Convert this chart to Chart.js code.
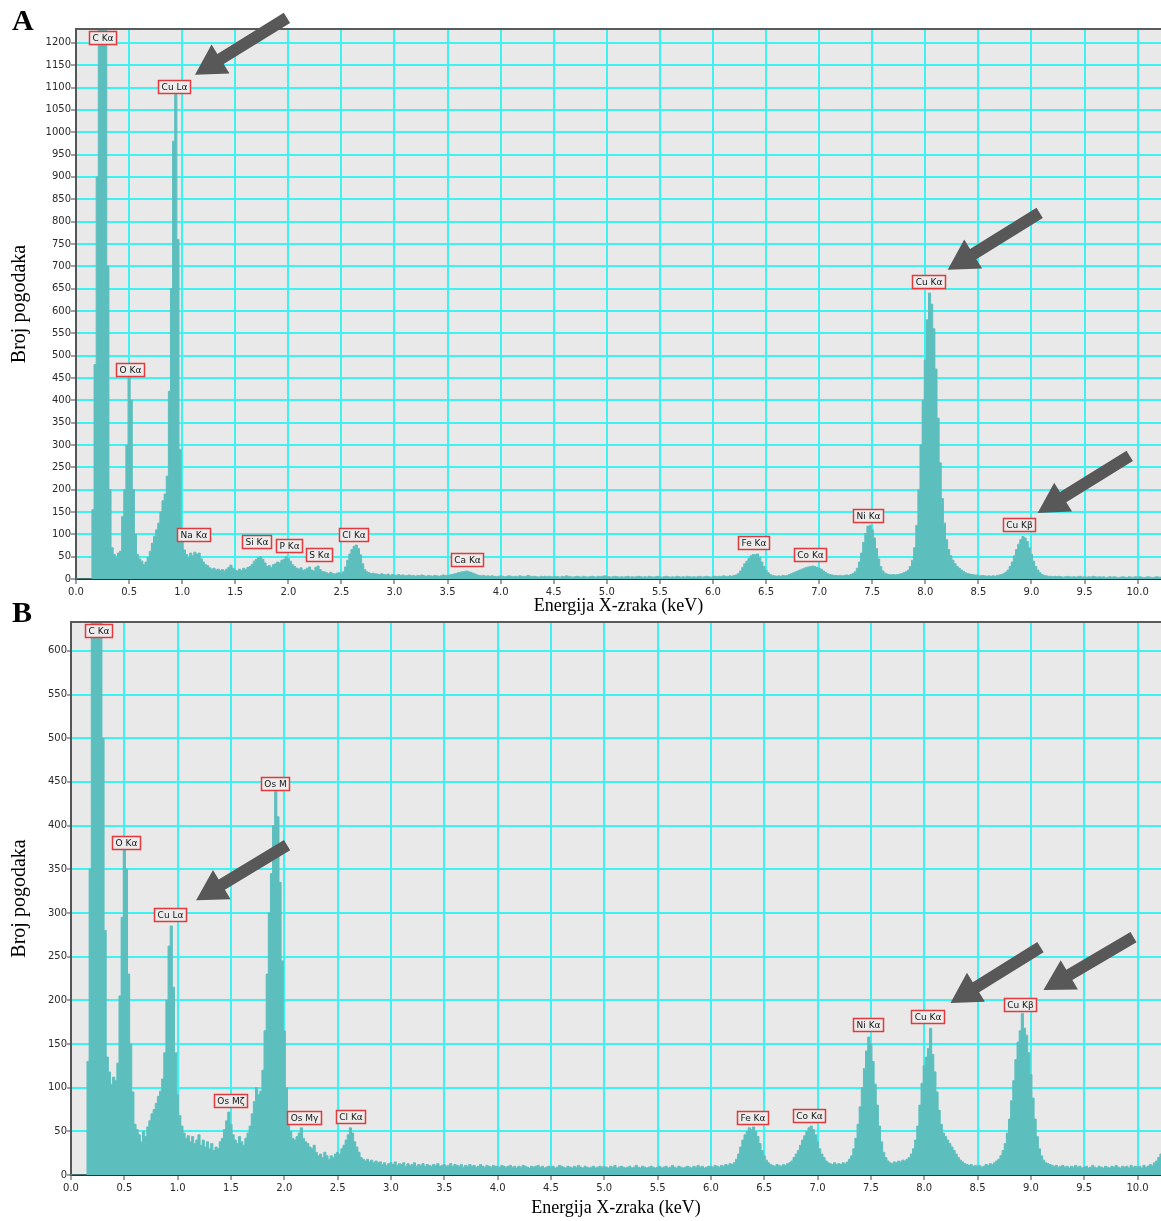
<!DOCTYPE html>
<html>
<head>
<meta charset="utf-8">
<script src="https://cdn.jsdelivr.net/npm/chart.js@4.4.1/dist/chart.umd.min.js"></script>
<style>
html,body{margin:0;padding:0;background:#fff;}
#wrap{position:relative;width:1161px;height:1221px;overflow:hidden;background:#fff;}
#cA{position:absolute;left:0;top:0;width:1161px;height:620px;}
#cB{position:absolute;left:0;top:598px;width:1161px;height:623px;}
</style>
</head>
<body>
<div id="wrap">
<canvas id="cA" width="1161" height="620"></canvas>
<canvas id="cB" width="1161" height="623"></canvas>
</div>
<script>
// ---------------- DATA ----------------
const energyStep = 0.02; // keV per channel bin (bin centres 0.00 ... 10.22)

// Panel A counts, one row per 0.5 keV
const countsA = [
  0,0,0,0,0,0,0,0,155,480,900,1300,1300,1300,1300,700,200,70,55,48,58,62,140,200,300,
  455,400,200,100,55,45,40,32,38,48,62,80,95,110,125,150,175,190,230,420,650,980,1085,760,290,
  110,65,55,48,58,52,60,55,58,45,38,32,30,25,22,24,20,22,19,21,18,22,26,31,24,
  20,18,22,19,24,21,26,28,33,40,44,48,50,44,36,28,30,26,32,34,38,36,42,44,50,
  46,40,32,28,24,22,25,19,21,24,27,20,18,26,29,21,17,16,14,12,15,12,11,13,14,
  12,16,27,42,56,66,73,76,68,54,34,21,16,14,12,13,12,11,10,12,10,9,11,8,10,
  9,8,10,8,9,7,8,9,7,8,6,8,7,9,7,6,8,7,6,8,7,6,7,9,8,
  8,9,10,11,12,14,15,16,17,18,16,15,13,11,9,8,7,8,6,7,6,7,6,5,6,
  7,6,5,6,7,6,5,6,5,7,6,5,6,8,6,5,6,5,4,6,5,6,5,6,5,
  5,6,5,4,6,5,7,6,5,4,5,6,5,4,6,5,4,5,6,5,4,6,5,6,7,
  6,5,4,5,6,5,4,5,4,5,6,4,5,4,5,6,5,4,5,4,6,5,4,5,6,
  5,4,5,6,5,4,5,4,6,5,4,5,4,6,5,4,5,4,5,6,4,5,6,5,4,
  5,6,5,6,5,7,6,5,7,6,8,9,12,18,26,34,40,46,52,55,54,56,48,38,28,
  20,14,10,8,7,6,7,6,8,7,8,10,12,14,16,18,20,22,24,26,27,28,29,28,26,
  24,22,18,15,12,10,9,8,8,7,8,7,8,9,8,10,12,16,24,38,58,82,102,118,120,
  110,92,68,45,28,18,13,11,10,9,10,9,10,11,12,14,16,20,28,42,70,120,200,300,400,
  490,580,640,615,560,470,360,260,180,125,88,66,52,42,34,28,24,20,17,14,12,11,10,9,9,
  8,7,8,7,6,7,6,7,6,8,9,10,12,15,20,28,38,52,66,78,88,95,92,84,70,
  55,40,28,20,14,10,8,7,6,6,5,6,5,6,5,4,5,6,5,4,5,4,5,6,4,
  5,4,5,4,6,5,4,5,4,5,3,4,5,4,5,4,3,4,5,4,3,5,4,4,5,
  4,5,4,3,4,5,4,3,4,5,4,4
];

// Panel B counts, one row per 0.5 keV
const countsB = [
  0,0,0,0,0,0,0,0,130,350,700,700,700,700,700,500,280,135,118,104,112,108,128,205,295,
  382,350,230,150,95,58,52,46,38,50,44,55,62,70,75,82,90,96,110,140,200,262,285,215,140,
  92,68,56,48,42,45,38,44,36,40,46,34,40,32,38,30,36,28,32,30,38,42,52,62,72,
  58,46,40,36,44,38,34,42,48,56,70,84,100,92,96,120,165,230,300,345,400,440,410,335,245,
  165,100,64,50,42,40,44,48,54,42,38,36,32,30,34,26,22,24,20,26,22,18,22,20,24,
  26,24,30,34,40,46,54,48,38,32,26,20,18,16,18,15,17,14,16,14,15,12,14,11,13,
  14,12,15,11,13,12,14,10,13,11,12,14,10,12,11,13,10,12,11,10,12,11,13,10,11,
  12,10,11,13,10,12,11,10,12,9,11,10,12,10,11,9,10,12,10,9,11,10,9,11,10,
  10,9,11,10,9,10,11,9,10,8,10,9,11,10,9,8,10,9,10,11,9,10,8,9,10,
  9,10,8,9,11,10,9,8,10,9,8,10,9,11,9,8,10,9,8,9,10,8,9,10,9,
  10,9,8,10,9,11,8,9,10,9,8,9,10,8,9,11,9,8,10,9,8,9,10,9,8,
  9,10,8,9,10,8,9,11,9,8,10,9,8,9,10,9,8,10,9,11,9,10,8,9,10,
  10,9,11,10,9,11,10,12,11,13,12,14,18,24,32,40,46,50,54,52,55,50,44,36,28,
  22,17,14,12,11,10,12,11,10,12,11,13,14,16,20,24,28,34,40,45,50,54,56,52,46,
  38,30,24,20,16,14,13,12,14,12,13,12,14,13,15,18,22,30,42,58,78,100,122,142,158,
  150,130,104,80,56,38,26,20,16,14,13,15,14,16,15,17,16,18,20,24,30,40,56,80,105,
  125,135,145,168,138,118,95,74,58,48,44,40,36,32,28,24,20,17,15,13,12,11,12,10,11,
  10,11,9,10,12,11,13,12,14,16,18,22,28,36,48,64,85,108,132,152,165,185,168,160,140,
  115,88,64,44,30,22,17,14,13,12,11,10,11,9,10,11,9,10,8,10,9,11,9,10,8,
  9,10,8,9,11,9,8,10,9,8,10,9,8,10,9,11,9,8,10,9,10,8,11,9,10,
  9,10,8,11,9,10,12,11,14,16,20,24
];

const energyA = countsA.map((_, i) => Math.round(i * energyStep * 100) / 100);
const energyB = countsB.map((_, i) => Math.round(i * energyStep * 100) / 100);

const xMin = 0, xMaxA = 10.22, xMaxB = 10.22;
const yMaxA = 1231, yMaxB = 633;
const xTickStep = 0.5;
const yTickStep = 50;

const xTitle = 'Energija X-zraka (keV)';
const yTitle = 'Broj pogodaka';
const panelLetters = ['A', 'B'];

// Peak labels (text, energy keV, counts at label centre)
const peakNamesA  = ['C Kα','Cu Lα','O Kα','Na Kα','Si Kα','P Kα','S Kα','Cl Kα','Ca Kα','Fe Kα','Co Kα','Ni Kα','Cu Kα','Cu Kβ'];
const peakEnergyA = [0.25, 0.927, 0.518, 1.111, 1.709, 2.01, 2.293, 2.618, 3.686, 6.384, 6.916, 7.467, 8.032, 8.889];
const peakCountA  = [1211, 1101, 468, 98.5, 83, 74, 54, 98.5, 42.5, 80.6, 53.7, 141, 665, 121];

const peakNamesB  = ['C Kα','O Kα','Cu Lα','Os M','Os Mζ','Os Mγ','Cl Kα','Fe Kα','Co Kα','Ni Kα','Cu Kα','Cu Kβ'];
const peakEnergyB = [0.258, 0.525, 0.933, 1.914, 1.496, 2.186, 2.622, 6.398, 6.923, 7.477, 8.039, 8.898];
const peakCountB  = [622.4, 380.4, 297.5, 447.4, 84.7, 65.8, 66.4, 65.2, 67.5, 172.2, 180.8, 194.5];

// Arrows (tail [keV, counts] -> head [keV, counts])
const arrowTailA = [[1.987, 1256], [9.077, 819.5], [9.925, 275.4]];
const arrowHeadA = [[1.121, 1128.5], [8.211, 691.9], [9.058, 147.8]];
const arrowTailB = [[2.026, 377.6], [9.09, 260.9], [9.962, 272.3]];
const arrowHeadB = [[1.173, 314.6], [8.246, 196.8], [9.118, 211.7]];

// ---------------- STYLE ----------------
const TEAL = '#5cbfbe';
const GRID = '#3ef2f2';
const PLOT_BG = '#e9e9e9';

function decoPlugin(p) {
  return {
    id: 'deco' + p.letter,
    beforeDraw(chart) {
      const {ctx, chartArea: a} = chart;
      ctx.save();
      ctx.fillStyle = PLOT_BG;
      ctx.fillRect(a.left, a.top, a.right - a.left, a.bottom - a.top);
      ctx.restore();
    },
    afterDatasetsDraw(chart) {
      const {ctx, chartArea: a} = chart;
      const xs = chart.scales.x, ys = chart.scales.y;
      ctx.save();
      ctx.strokeStyle = '#5a5a5a';
      ctx.lineWidth = 2;
      ctx.beginPath();
      ctx.moveTo(a.left, a.top);
      ctx.lineTo(a.right, a.top);
      ctx.stroke();
      ctx.font = '9px "DejaVu Sans"';
      ctx.textAlign = 'center';
      ctx.textBaseline = 'middle';
      p.names.forEach((n, i) => {
        const x = xs.getPixelForValue(p.pe[i]);
        const y = ys.getPixelForValue(p.pc[i]);
        const w = Math.round(ctx.measureText(n).width + 7), h = 14;
        const l = Math.round(x - w / 2), t = Math.round(y - h / 2);
        ctx.fillStyle = '#ececec';
        ctx.fillRect(l, t, w, h);
        ctx.strokeStyle = '#e2393c';
        ctx.lineWidth = 1.5;
        ctx.strokeRect(l + 0.5, t + 0.5, w - 1, h - 1);
        ctx.fillStyle = '#151515';
        ctx.fillText(n, l + w / 2, t + h / 2 + 0.5);
      });
      ctx.restore();
    },
    afterDraw(chart) {
      const {ctx} = chart;
      const xs = chart.scales.x, ys = chart.scales.y;
      ctx.save();
      ctx.fillStyle = '#585858';
      p.tails.forEach((tl, i) => {
        const hd = p.heads[i];
        const x0 = xs.getPixelForValue(tl[0]), y0 = ys.getPixelForValue(tl[1]);
        const x1 = xs.getPixelForValue(hd[0]), y1 = ys.getPixelForValue(hd[1]);
        const dx = x1 - x0, dy = y1 - y0, len = Math.hypot(dx, dy);
        const ux = dx / len, uy = dy / len, nx = -uy, ny = ux;
        const sw = 6, hl = 30, hw = 17;
        const bx = x1 - ux * hl, by = y1 - uy * hl;
        ctx.beginPath();
        ctx.moveTo(x0 + nx * sw, y0 + ny * sw);
        ctx.lineTo(bx + nx * sw, by + ny * sw);
        ctx.lineTo(bx + nx * hw, by + ny * hw);
        ctx.lineTo(x1, y1);
        ctx.lineTo(bx - nx * hw, by - ny * hw);
        ctx.lineTo(bx - nx * sw, by - ny * sw);
        ctx.lineTo(x0 - nx * sw, y0 - ny * sw);
        ctx.closePath();
        ctx.fill();
      });
      ctx.fillStyle = '#000';
      ctx.font = 'bold 30px "Liberation Serif"';
      ctx.textAlign = 'left';
      ctx.textBaseline = 'alphabetic';
      ctx.fillText(p.letter, 12, p.letterBase);
      ctx.restore();
    }
  };
}

function makeChart(id, p) {
  const tickFont = {family: 'DejaVu Sans', size: 10};
  return new Chart(document.getElementById(id), {
    type: 'line',
    data: {
      labels: p.energies,
      datasets: [{
        data: p.counts,
        stepped: 'middle',
        fill: 'origin',
        backgroundColor: TEAL,
        borderColor: TEAL,
        borderWidth: 1,
        pointRadius: 0,
        tension: 0
      }]
    },
    options: {
      responsive: false,
      animation: false,
      devicePixelRatio: 1,
      layout: {padding: {top: p.padTop, left: 0, right: 0, bottom: 0}},
      plugins: {legend: {display: false}, tooltip: {enabled: false}, title: {display: false}},
      scales: {
        x: {
          type: 'linear',
          min: xMin,
          max: p.xMax,
          afterFit: s => { s.height = p.xAxisH; },
          ticks: {
            stepSize: xTickStep,
            includeBounds: false,
            autoSkip: false,
            maxRotation: 0,
            font: tickFont,
            color: '#2a2a2a',
            padding: 2,
            callback: v => Number(v).toFixed(1)
          },
          grid: {color: GRID, lineWidth: 2, tickLength: 5, tickColor: '#444', tickWidth: 1},
          border: {color: '#333', width: 2},
          title: {
            display: true, text: xTitle, color: '#000',
            font: {family: 'Liberation Serif', size: 18},
            padding: {top: 0, bottom: p.xTitlePad}
          }
        },
        y: {
          min: 0,
          max: p.yMax,
          afterFit: s => { s.width = p.yAxisW; },
          ticks: {
            stepSize: yTickStep,
            includeBounds: false,
            font: tickFont,
            color: '#2a2a2a',
            padding: 0,
            callback: v => String(Math.round(v))
          },
          grid: {color: GRID, lineWidth: 2, tickLength: p.yTickLen, tickColor: '#444', tickWidth: 1},
          border: {color: '#555', width: 2},
          title: {
            display: true, text: yTitle, color: '#000',
            font: {family: 'Liberation Serif', size: 20},
            padding: {top: 8, bottom: 0}
          }
        }
      }
    },
    plugins: [decoPlugin(p)]
  });
}

makeChart('cA', {
  letter: panelLetters[0], letterBase: 30,
  energies: energyA, counts: countsA,
  xMax: xMaxA, yMax: yMaxA,
  padTop: 29, xAxisH: 41, yAxisW: 76, yTickLen: 5, xTitlePad: 3.2,
  names: peakNamesA, pe: peakEnergyA, pc: peakCountA,
  tails: arrowTailA, heads: arrowHeadA
});

makeChart('cB', {
  letter: panelLetters[1], letterBase: 24,
  energies: energyB, counts: countsB,
  xMax: xMaxB, yMax: yMaxB,
  padTop: 24, xAxisH: 46, yAxisW: 71, yTickLen: 4, xTitlePad: 2.2,
  names: peakNamesB, pe: peakEnergyB, pc: peakCountB,
  tails: arrowTailB, heads: arrowHeadB
});
</script>
</body>
</html>
